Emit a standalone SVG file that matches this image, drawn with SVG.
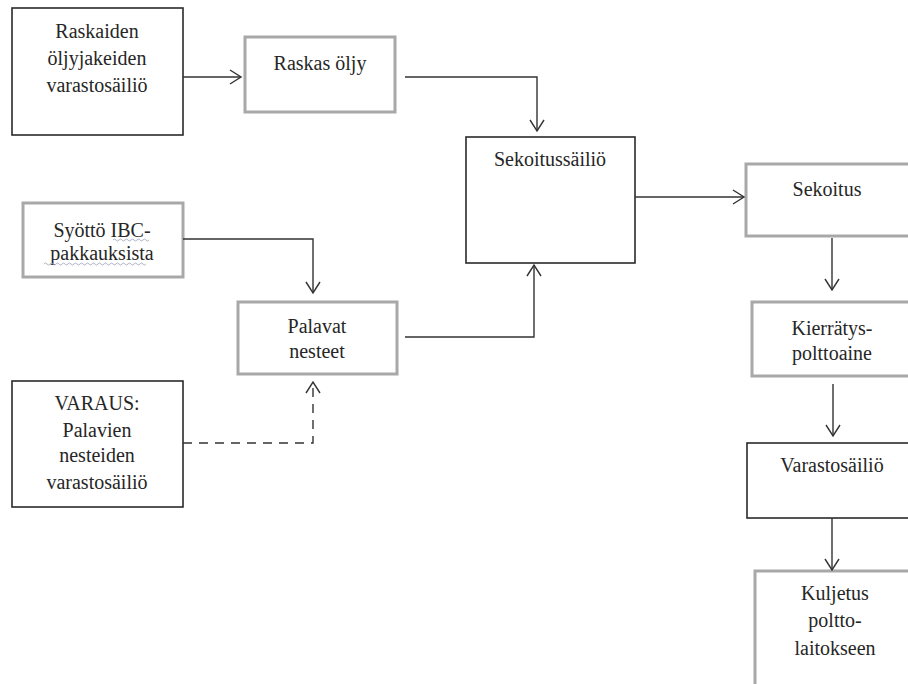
<svg xmlns="http://www.w3.org/2000/svg" width="908" height="684" viewBox="0 0 908 684">
<style>
text{font-size:20px;fill:#262626;text-anchor:middle}
.bk{fill:#fff;stroke:#2a2a2a;stroke-width:1.6}
.gr{fill:#fff;stroke:#a8a8a8;stroke-width:3}
.c{fill:none;stroke:#333;stroke-width:1.4}
.d{stroke-dasharray:9,7}
.w{fill:none;stroke:#9aa0b8;stroke-width:0.8}
</style>
<defs>
<marker id="a" markerUnits="userSpaceOnUse" markerWidth="20" markerHeight="20" refX="12" refY="8" orient="auto">
<path d="M1,1 L12,8 L1,15" fill="none" stroke="#333" stroke-width="1.4"/>
</marker>
</defs>
<rect width="908" height="684" fill="#fff"/>
<g font-family="Times New Roman, Liberation Serif, Tinos, DejaVu Serif, serif">
<g id="n1"><rect class="bk" x="12" y="8" width="171" height="127"/>
<text x="97" y="38">Raskaiden</text><text x="97" y="65">öljyjakeiden</text><text x="97" y="92">varastosäiliö</text></g>
<g id="n2"><rect class="gr" x="245" y="37" width="150" height="75"/><text x="320" y="70">Raskas öljy</text></g>
<g id="n3"><rect class="bk" x="466" y="137" width="169" height="126"/><text x="550" y="166">Sekoitussäiliö</text></g>
<g id="n4"><rect class="gr" x="746" y="164" width="164" height="72"/><text x="827" y="196">Sekoitus</text></g>
<g id="n5"><rect class="gr" x="23" y="203" width="160" height="74"/>
<text x="102" y="237">Syöttö IBC-</text><text x="102" y="260">pakkauksista</text>
<path class="w" d="M113,240 q1.5,-2 3,0 t3,0 t3,0 t3,0 t3,0 t3,0 t3,0 t3,0 t3,0 t3,0 t3,0 t3,0 M44,264 q1.5,-2 3,0 t3,0 t3,0 t3,0 t3,0 t3,0 t3,0 t3,0 t3,0 t3,0 t3,0 t3,0 t3,0 t3,0 t3,0 t3,0 t3,0 t3,0 t3,0 t3,0 t3,0 t3,0 t3,0 t3,0 t3,0 t3,0 t3,0 t3,0 t3,0 t3,0 t3,0 t3,0 t3,0 t3,0"/></g>
<g id="n6"><rect class="gr" x="238" y="302" width="159" height="72"/><text x="317" y="333">Palavat</text><text x="317" y="358">nesteet</text></g>
<g id="n7"><rect class="bk" x="12" y="381" width="171" height="126"/>
<text x="97" y="410">VARAUS:</text><text x="97" y="437">Palavien</text><text x="97" y="462">nesteiden</text><text x="97" y="489">varastosäiliö</text></g>
<g id="n8"><rect class="gr" x="752" y="302" width="160" height="74"/><text x="832" y="335">Kierrätys-</text><text x="832" y="360">polttoaine</text></g>
<g id="n9"><rect class="bk" x="747" y="443" width="165" height="75"/><text x="832" y="472">Varastosäiliö</text></g>
<g id="n10"><rect class="gr" x="755" y="571" width="157" height="118"/>
<text x="835" y="600">Kuljetus</text><text x="835" y="627">poltto-</text><text x="835" y="655">laitokseen</text></g>
</g>
<g id="connectors">
<path class="c" d="M183,77 H241" marker-end="url(#a)"/>
<path class="c" d="M405,77 H537 V131" marker-end="url(#a)"/>
<path class="c" d="M635,197 H744" marker-end="url(#a)"/>
<path class="c" d="M832,238 V290" marker-end="url(#a)"/>
<path class="c" d="M833,384 V436" marker-end="url(#a)"/>
<path class="c" d="M832,518 V570" marker-end="url(#a)"/>
<path class="c" d="M183,239 H313 V293" marker-end="url(#a)"/>
<path class="c" d="M405,337 H534 V265" marker-end="url(#a)"/>
<path class="c d" d="M183,443 H313 V382" marker-end="url(#a)"/>
</g>
</svg>
